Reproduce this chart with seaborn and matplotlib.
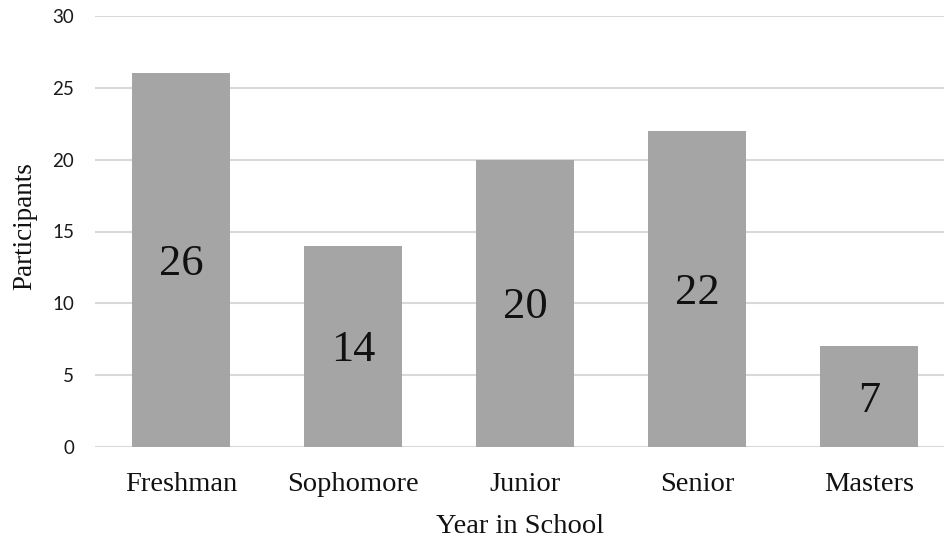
import matplotlib
matplotlib.use("Agg")
import matplotlib.pyplot as plt
import seaborn as sns
import pandas as pd

# Participants by year in school
years = ["Freshman", "Sophomore", "Junior", "Senior", "Masters"]
participants = [26, 14, 20, 22, 7]
y_ticks = [0, 5, 10, 15, 20, 25, 30]

df = pd.DataFrame({"Year in School": years, "Participants": participants})

sns.set_style("white")
plt.rcParams["font.family"] = ["Liberation Serif", "DejaVu Serif"]

fig = plt.figure(figsize=(9.45, 5.41), dpi=100)
ax = fig.add_axes([95 / 945, (541 - 447) / 541, 850 / 945, (447 - 16) / 541])

sns.barplot(data=df, x="Year in School", y="Participants", color="#a5a5a5",
            saturation=1, width=0.57, linewidth=0, ax=ax, zorder=3)

ax.set_ylim(0, 30)
ax.set_yticks(y_ticks)
ax.set_xlim(-0.5, 4.44)
ax.yaxis.grid(True, color="#d9d9d9", linewidth=1.5, zorder=0)
ax.set_axisbelow(True)
for s in ax.spines.values():
    s.set_visible(False)

ax.tick_params(axis="y", length=0, pad=15, labelsize=13.5, labelcolor="#1a1a1a")
for t in ax.get_yticklabels():
    t.set_fontfamily(["Lato", "DejaVu Sans"])
ax.tick_params(axis="x", length=0, pad=18, labelsize=20.5, labelcolor="#111111")

ax.set_xlabel("Year in School", fontsize=20.5, labelpad=12.5, color="#111111")
ax.set_ylabel("")
fig.text(25 / 945, (541 - 226) / 541, "Participants", rotation=90,
         ha="center", va="center", fontsize=19.5, color="#111111")

# Value labels centred inside each bar (digit centre at half the bar height)
for i, v in enumerate(participants):
    ax.annotate(str(v), xy=(i, v / 2), xytext=(0, -10.8),
                textcoords="offset points", ha="center", va="baseline",
                fontsize=32, color="#111111", zorder=4)

fig.savefig("out.png", dpi=100)
